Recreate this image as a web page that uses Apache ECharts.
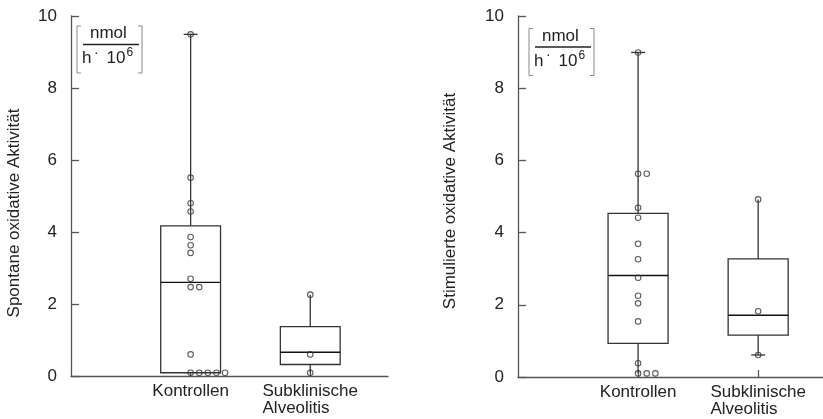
<!DOCTYPE html>
<html>
<head>
<meta charset="utf-8">
<script src="https://cdn.jsdelivr.net/npm/echarts@6/dist/echarts.min.js"></script>
<style>
  html, body { margin: 0; padding: 0; background: #fff; }
  #chart { width: 823px; height: 419px; }
</style>
</head>
<body>
<div id="chart"></div>
<script>
// Group names on the x axis
const categories = ['Kontrollen', 'Subklinische\nAlveolitis'];
const yTicks = [0, 2, 4, 6, 8, 10];

// Spontaneous oxidative activity, single measurements per group
const spontanKontrollen = [9.49, 5.51, 4.80, 4.57, 3.86, 3.63, 3.42, 2.70, 2.47, 2.47, 0.60, 0.09, 0.09, 0.09, 0.09, 0.09];
const spontanSubklinisch = [2.26, 0.60, 0.09];
// Box statistics: [lower whisker, Q1, median, Q3, upper whisker]
const spontanBoxKontrollen = [0.09, 0.09, 2.60, 4.17, 9.49];
const spontanBoxSubklinisch = [0.09, 0.32, 0.66, 1.37, 2.26];

// Stimulated oxidative activity
const stimKontrollen = [8.99, 5.63, 5.63, 4.69, 4.41, 3.69, 3.26, 2.75, 2.25, 2.04, 1.54, 0.38, 0.10, 0.10, 0.10];
const stimSubklinisch = [4.92, 1.82, 0.61];
const stimBoxKontrollen = [0.10, 0.93, 2.81, 4.53, 8.99];
const stimBoxSubklinisch = [0.61, 1.16, 1.71, 3.27, 4.92];

// Which whisker ends carry a cap: [lower, upper]
const capsSpontan = [[false, true], [false, false]];
const capsStim = [[false, true], [true, false]];

const FONT = '"Liberation Sans", Arial, Helvetica, sans-serif';
const INK = '#222';
const AXIS = '#555';
const DUP_STEP = 0.072;   // sideways step for equal values
const BOX_HALF = 0.25;    // half box width in axis units
const CAP_HALF = 0.058;

// place repeated values next to each other to the right of the group centre
function dotsFor(values, centre) {
  const seen = {};
  return values.map(v => {
    const k = v.toFixed(2);
    const n = seen[k] || 0;
    seen[k] = n + 1;
    return [centre + n * DUP_STEP, v];
  });
}

function boxRow(centre, stats, caps) {
  return [centre].concat(stats).concat([caps[0] ? 1 : 0, caps[1] ? 1 : 0]);
}

function renderBox(params, api) {
  const x = api.value(0);
  const lo = api.value(1), q1 = api.value(2), med = api.value(3), q3 = api.value(4), hi = api.value(5);
  const capLo = api.value(6), capHi = api.value(7);
  const p = (xx, yy) => api.coord([xx, yy]);
  const line = { stroke: '#333', lineWidth: 1.3, fill: null };
  const tl = p(x - BOX_HALF, q3), br = p(x + BOX_HALF, q1);
  const children = [
    { type: 'line', shape: { x1: p(x, q3)[0], y1: p(x, q3)[1], x2: p(x, hi)[0], y2: p(x, hi)[1] }, style: line },
    { type: 'line', shape: { x1: p(x, q1)[0], y1: p(x, q1)[1], x2: p(x, lo)[0], y2: p(x, lo)[1] }, style: line },
    { type: 'rect', shape: { x: tl[0], y: tl[1], width: br[0] - tl[0], height: br[1] - tl[1] }, style: { stroke: '#333', lineWidth: 1.3, fill: '#fff' } },
    { type: 'line', shape: { x1: tl[0], y1: p(x, med)[1], x2: br[0], y2: p(x, med)[1] }, style: { stroke: '#111', lineWidth: 1.4 } }
  ];
  if (capHi) {
    const a = p(x - CAP_HALF, hi), b = p(x + CAP_HALF, hi);
    children.push({ type: 'line', shape: { x1: a[0], y1: a[1], x2: b[0], y2: b[1] }, style: line });
  }
  if (capLo) {
    const a = p(x - CAP_HALF, lo), b = p(x + CAP_HALF, lo);
    children.push({ type: 'line', shape: { x1: a[0], y1: a[1], x2: b[0], y2: b[1] }, style: line });
  }
  return { type: 'group', children };
}

function xAxisFor(gridIndex, max) {
  return {
    type: 'value', gridIndex, min: 0, max,
    splitLine: { show: false },
    axisLine: { show: true, lineStyle: { color: AXIS, width: 1.3 } },
    axisTick: { show: true, inside: true, length: 7, customValues: [1, 2], lineStyle: { color: AXIS, width: 1.3 } },
    axisLabel: {
      customValues: [1, 2],
      margin: 7,
      fontFamily: FONT, fontSize: 17, color: INK, lineHeight: 17,
      formatter: v => {
        const name = categories[Math.round(v) - 1] || '';
        return name.split('\n').map(s => '{t|' + s + '}').join('\n');
      },
      rich: { t: { fontFamily: FONT, fontSize: 17, color: INK, lineHeight: 17, align: 'left' } }
    }
  };
}

function yAxisFor(gridIndex) {
  return {
    type: 'value', gridIndex, min: yTicks[0], max: yTicks[yTicks.length - 1], interval: 2,
    splitLine: { show: false },
    axisLine: { show: true, lineStyle: { color: AXIS, width: 1.3 } },
    axisTick: { show: true, inside: true, length: 8, lineStyle: { color: AXIS, width: 1.3 } },
    axisLabel: { margin: 14, fontFamily: FONT, fontSize: 17, color: INK }
  };
}

function dotSeries(idx, data) {
  return {
    type: 'scatter', xAxisIndex: idx, yAxisIndex: idx, data,
    symbol: 'circle', symbolSize: 5.5, z: 5,
    itemStyle: { color: 'rgba(255,255,255,0)', borderColor: '#333', borderWidth: 1.1 },
    emphasis: { disabled: true }, silent: true
  };
}

// bracketed unit [nmol / (h · 10^6)]
function unitBlock(dx, dy) {
  const br = { stroke: '#888', lineWidth: 1 };
  const txt = (x, y, text, size) => ({ type: 'text', x: x + dx, y: y + dy, style: { text, fontFamily: FONT, fontSize: size, fill: INK, textVerticalAlign: 'top' } });
  return [
    { type: 'polyline', shape: { points: [[81 + dx, 26 + dy], [77 + dx, 26 + dy], [77 + dx, 73 + dy], [81 + dx, 73 + dy]] }, style: Object.assign({ fill: null }, br) },
    { type: 'polyline', shape: { points: [[138 + dx, 26 + dy], [142 + dx, 26 + dy], [142 + dx, 73 + dy], [138 + dx, 73 + dy]] }, style: Object.assign({ fill: null }, br) },
    { type: 'line', shape: { x1: 83 + dx, y1: 44.5 + dy, x2: 139 + dx, y2: 44.5 + dy }, style: { stroke: '#222', lineWidth: 1.3 } },
    txt(90, 25, 'nmol', 17),
    txt(82, 50, 'h', 17),
    txt(94, 46, '·', 14),
    txt(106.5, 50, '10', 17),
    txt(126.5, 47, '6', 12)
  ];
}

const chart = echarts.init(document.getElementById('chart'), null, { renderer: 'canvas' });
chart.setOption({
  animation: false,
  backgroundColor: '#fff',
  grid: [
    { left: 71, top: 16, width: 317, height: 360 },
    { left: 518, top: 16, width: 305, height: 361 }
  ],
  xAxis: [xAxisFor(0, 2.65), xAxisFor(1, 2.54)],
  yAxis: [yAxisFor(0), yAxisFor(1)],
  graphic: [
    { type: 'text', x: 14, y: 213, rotation: Math.PI / 2, style: { text: 'Spontane oxidative Aktivität', fontFamily: FONT, fontSize: 17, fill: INK, align: 'center', verticalAlign: 'middle' } },
    { type: 'text', x: 450, y: 201, rotation: Math.PI / 2, style: { text: 'Stimulierte oxidative Aktivität', fontFamily: FONT, fontSize: 17, fill: INK, align: 'center', verticalAlign: 'middle' } }
  ].concat(unitBlock(0, 0), unitBlock(452, 2.5)),
  series: [
    {
      type: 'custom', xAxisIndex: 0, yAxisIndex: 0, renderItem: renderBox, silent: true, z: 2,
      data: [boxRow(1, spontanBoxKontrollen, capsSpontan[0]), boxRow(2, spontanBoxSubklinisch, capsSpontan[1])]
    },
    {
      type: 'custom', xAxisIndex: 1, yAxisIndex: 1, renderItem: renderBox, silent: true, z: 2,
      data: [boxRow(1, stimBoxKontrollen, capsStim[0]), boxRow(2, stimBoxSubklinisch, capsStim[1])]
    },
    dotSeries(0, dotsFor(spontanKontrollen, 1).concat(dotsFor(spontanSubklinisch, 2))),
    dotSeries(1, dotsFor(stimKontrollen, 1).concat(dotsFor(stimSubklinisch, 2)))
  ]
});
</script>
</body>
</html>
